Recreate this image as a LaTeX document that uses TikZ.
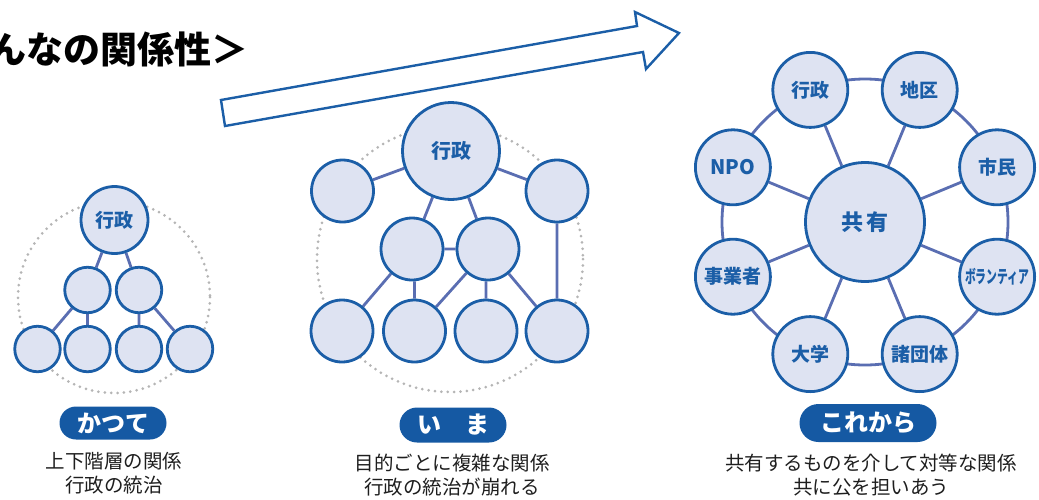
\documentclass[tikz,border=0pt]{standalone}
\usepackage{fontspec}
\usepackage{graphicx}
\setmainfont{Noto Sans CJK JP}
\usetikzlibrary{shapes.misc,backgrounds}
\definecolor{cfill}{HTML}{DEE3F2}
\definecolor{cline}{HTML}{1B5EA7}
\definecolor{conn}{HTML}{5A6EB2}
\definecolor{pillc}{HTML}{1559A3}
\definecolor{dotc}{HTML}{B5B5B5}
\definecolor{txt}{HTML}{1E1E1E}
\tikzset{
  bub/.style={circle, draw=cline, fill=cfill, line width=2.8pt, inner sep=0pt, text=cline,
    font=\fontsize{19}{19}\selectfont\bfseries},
  link/.style={draw=conn, line width=2.8pt},
  dotring/.style={draw=dotc, line width=3pt, dash pattern=on 0pt off 6.4pt, line cap=round},
  pillbox/.style={rounded rectangle, fill=pillc, text=white, inner sep=0pt,
    font=\fontsize{24}{24}\selectfont\bfseries},
  caption/.style={text=txt, align=center, inner sep=0pt, font=\fontsize{19.5}{23.5}\selectfont},
  arrowshape/.style={draw=cline, line width=2.4pt, fill=white, line join=miter},
}
\begin{document}
\begin{tikzpicture}[x=1pt,y=-1pt]
\useasboundingbox (0,0) rectangle (1039,499);

% title
\node[anchor=east, inner sep=0pt, text=black, font=\fontsize{37}{37}\selectfont\bfseries] (title) at (249,49) {んなの関係性＞};

% big hollow arrow
\draw[arrowshape] (221,100) -- (637,26) -- (635,12) -- (679,33) -- (646,69) -- (643,52) -- (225,126) -- cycle;

% ---------- かつて ----------
\node[bub, minimum size=67pt] (k0) at (114.5,220) {行政};
\node[bub, minimum size=45.5pt] (k1) at (87.5,290) {};
\node[bub, minimum size=45.5pt] (k2) at (139,290) {};
\node[bub, minimum size=45.5pt] (k3) at (37.5,349) {};
\node[bub, minimum size=45.5pt] (k4) at (87.5,349) {};
\node[bub, minimum size=45.5pt] (k5) at (139,349) {};
\node[bub, minimum size=45.5pt] (k6) at (190,349) {};
\begin{scope}[on background layer]
  \path[dotring] (114,297) circle[radius=96];
  \draw[link] (k0) -- (k1) (k0) -- (k2) (k1) -- (k3) (k1) -- (k4) (k2) -- (k5) (k2) -- (k6);
\end{scope}
\node[pillbox, minimum width=107pt, minimum height=33pt] (p1) at (113,423) {かつて};
\node[caption] (c1) at (114,473) {上下階層の関係\\行政の統治};

% ---------- いま ----------
\node[bub, minimum size=97pt, font=\fontsize{20}{20}\selectfont\bfseries] (i0) at (451,151) {行政};
\node[bub, minimum size=62pt] (i1) at (342.5,191) {};
\node[bub, minimum size=62pt] (i2) at (557,191) {};
\node[bub, minimum size=62pt] (i3) at (412,249) {};
\node[bub, minimum size=62pt] (i4) at (488,249) {};
\node[bub, minimum size=62pt] (i5) at (342,331) {};
\node[bub, minimum size=62pt] (i6) at (414.5,331) {};
\node[bub, minimum size=62pt] (i7) at (486,331) {};
\node[bub, minimum size=62pt] (i8) at (557,331) {};
\begin{scope}[on background layer]
  \path[dotring] (450,259) circle[radius=133];
  \draw[link] (i0) -- (i1) (i0) -- (i2) (i0) -- (i3) (i0) -- (i4) (i3) -- (i4)
    (i3) -- (i5) (i6.north) -- (i6.north |- i3.south) (i4) -- (i6) (i7.north) -- (i7.north |- i4.south) (i4) -- (i8)
    (i2) -- (i8);
\end{scope}
\node[pillbox, minimum width=107pt, minimum height=35pt] (p2) at (453,425) {い　ま};
\node[caption] (c2) at (452,475) {目的ごとに複雑な関係\\行政の統治が崩れる};

% ---------- これから ----------
\node[bub, minimum size=119pt, font=\fontsize{22}{22}\selectfont\bfseries] (r0) at (865,222) {共\hspace{3pt}有};
\node[bub, minimum size=75pt] (r1) at (810.3,89.9) {行政};
\node[bub, minimum size=75pt] (r2) at (919.7,89.9) {地区};
\node[bub, minimum size=75pt] (r3) at (997.1,167.3) {市民};
\node[bub, minimum size=75pt] (r4) at (997.1,276.7) {\scalebox{0.6}[1]{\fontsize{18}{18}\selectfont\bfseries ボランティア}};
\node[bub, minimum size=75pt] (r5) at (919.7,354.1) {諸団体};
\node[bub, minimum size=75pt] (r6) at (810.3,354.1) {大学};
\node[bub, minimum size=75pt] (r7) at (732.9,276.7) {事業者};
\node[bub, minimum size=75pt, font=\fontsize{20}{20}\selectfont\bfseries] (r8) at (732.9,167.3) {NPO};
\begin{scope}[on background layer]
  \path[link] (r0.center) circle[radius=143];
  \foreach \n in {r1,r2,r3,r4,r5,r6,r7,r8} { \draw[link] (r0) -- (\n); }
\end{scope}
\node[pillbox, minimum width=137pt, minimum height=38pt] (p3) at (868,423) {これから};
\node[caption] (c3) at (871,475) {共有するものを介して対等な関係\\共に公を担いあう};
\end{tikzpicture}
\end{document}
